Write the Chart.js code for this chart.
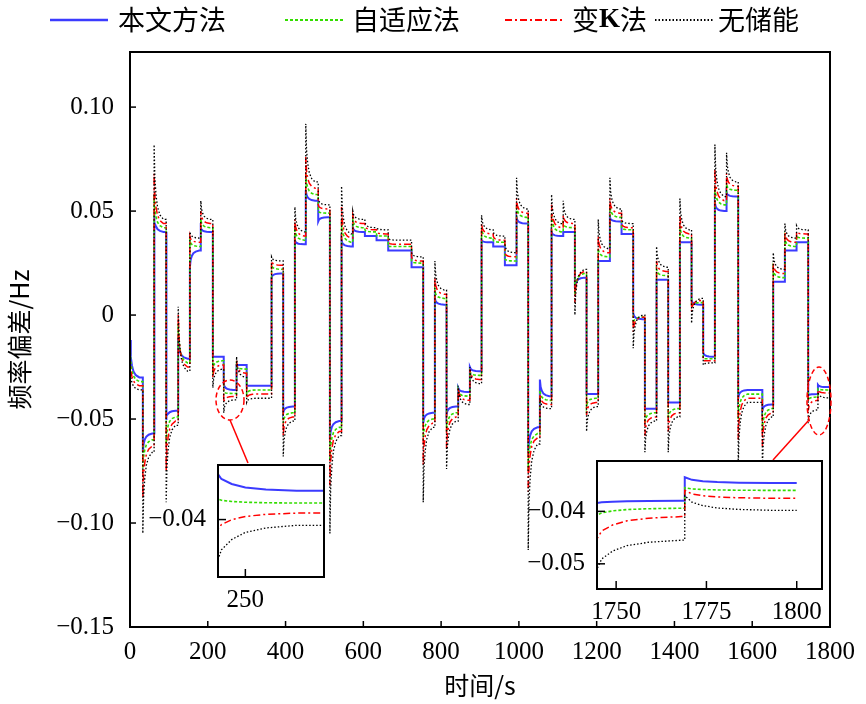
<!DOCTYPE html>
<html><head><meta charset="utf-8">
<script src="https://cdn.jsdelivr.net/npm/chart.js@4"></script>
<style>body{margin:0;background:#fff;}#wrap{position:relative;width:866px;height:704px;}canvas{position:absolute;}</style>
</head><body><div id="wrap">
<canvas id="main" width="866" height="704" style="left:0;top:0"></canvas>
<canvas id="in1" width="196" height="168" style="left:130px;top:446px"></canvas>
<canvas id="in2" width="309" height="179" style="left:515px;top:442px"></canvas>
</div>
<script>
const seriesNames = ['本文方法','自适应法','变K法','无储能'];
const segT = [0,33,62,93,124,154,182,213,241,274,300,364,394,424,452,484,514,544,573,604,634,664,724,754,784,814,844,874,904,934,964,994,1024,1054,1084,1114,1144,1174,1204,1234,1264,1294,1324,1354,1384,1414,1444,1474,1504,1534,1564,1626,1654,1684,1714,1744,1769];
const blueLvl = [-0.030,-0.057,0.040,-0.046,-0.021,0.031,0.040,-0.020,-0.036,-0.024,-0.034,0.020,-0.044,0.034,0.055,0.047,-0.051,0.033,0.040,0.038,0.036,0.031,0.023,-0.047,0.005,-0.044,-0.037,-0.027,0.035,0.033,0.024,0.044,-0.054,-0.039,0.038,0.040,0.018,-0.038,0.026,0.045,0.039,-0.002,-0.045,0.017,-0.042,0.035,0.005,-0.020,0.050,0.057,-0.036,-0.043,0.016,0.031,0.035,-0.038,-0.0346];
const blueSpk = [-0.012,-0.066,0.048,-0.0505,-0.011,0.023,0.042,-0.020,-0.033,-0.024,-0.034,0.018,-0.047,0.036,0.060,0.045,-0.060,0.036,0.042,0.038,0.036,0.031,0.023,-0.052,0.008,-0.048,-0.035,-0.025,0.036,0.033,0.024,0.047,-0.066,-0.031,0.040,0.040,0.013,-0.038,0.026,0.047,0.039,0.001,-0.045,0.017,-0.042,0.035,0.007,-0.018,0.054,0.059,-0.040,-0.046,0.016,0.031,0.035,-0.0385,-0.0335];
const greenLvl = [-0.032,-0.060,0.042,-0.049,-0.023,0.033,0.042,-0.022,-0.0377,-0.026,-0.036,0.022,-0.047,0.036,0.058,0.049,-0.054,0.035,0.042,0.040,0.038,0.033,0.025,-0.050,0.008,-0.047,-0.039,-0.029,0.037,0.035,0.026,0.047,-0.057,-0.041,0.040,0.042,0.020,-0.040,0.028,0.047,0.041,-0.001,-0.047,0.019,-0.045,0.037,0.006,-0.021,0.053,0.060,-0.038,-0.045,0.018,0.033,0.037,-0.0394,-0.036];
const greenSpk = [-0.015,-0.075,0.058,-0.062,-0.004,0.036,0.046,-0.026,-0.037,-0.024,-0.038,0.024,-0.052,0.042,0.068,0.050,-0.070,0.046,0.046,0.041,0.038,0.033,0.026,-0.060,0.012,-0.056,-0.036,-0.027,0.042,0.036,0.027,0.053,-0.075,-0.036,0.049,0.044,0.010,-0.044,0.032,0.053,0.042,-0.004,-0.052,0.022,-0.050,0.043,0.004,-0.021,0.062,0.063,-0.050,-0.056,0.022,0.037,0.038,-0.041,-0.0355];
const redLvl = [-0.034,-0.063,0.044,-0.051,-0.025,0.035,0.044,-0.024,-0.0391,-0.028,-0.038,0.024,-0.049,0.038,0.061,0.051,-0.056,0.037,0.044,0.041,0.039,0.034,0.026,-0.052,0.010,-0.049,-0.041,-0.031,0.039,0.036,0.028,0.049,-0.059,-0.043,0.042,0.044,0.021,-0.042,0.030,0.049,0.042,-0.001,-0.049,0.021,-0.047,0.039,0.007,-0.022,0.055,0.062,-0.040,-0.047,0.020,0.035,0.039,-0.041,-0.0375];
const redSpk = [-0.020,-0.088,0.068,-0.075,0.000,0.038,0.050,-0.030,-0.042,-0.022,-0.040,0.026,-0.058,0.046,0.076,0.053,-0.082,0.052,0.048,0.043,0.040,0.035,0.028,-0.072,0.018,-0.064,-0.035,-0.026,0.044,0.038,0.030,0.056,-0.085,-0.038,0.053,0.048,0.006,-0.048,0.038,0.056,0.044,-0.008,-0.058,0.026,-0.056,0.048,0.002,-0.022,0.070,0.068,-0.060,-0.063,0.025,0.040,0.040,-0.046,-0.036];
const blackLvl = [-0.036,-0.066,0.046,-0.053,-0.027,0.037,0.046,-0.026,-0.0408,-0.030,-0.040,0.026,-0.051,0.040,0.064,0.053,-0.058,0.039,0.046,0.042,0.041,0.036,0.028,-0.054,0.012,-0.051,-0.043,-0.033,0.041,0.038,0.030,0.051,-0.062,-0.045,0.044,0.046,0.022,-0.044,0.032,0.051,0.044,0.000,-0.051,0.023,-0.049,0.041,0.008,-0.023,0.057,0.064,-0.042,-0.049,0.022,0.037,0.041,-0.0455,-0.0398];
const blackSpk = [-0.025,-0.105,0.082,-0.090,0.004,0.040,0.055,-0.035,-0.047,-0.020,-0.042,0.028,-0.068,0.052,0.092,0.056,-0.105,0.062,0.050,0.045,0.042,0.037,0.030,-0.090,0.026,-0.074,-0.034,-0.025,0.048,0.040,0.034,0.066,-0.113,-0.040,0.058,0.055,0.000,-0.056,0.046,0.066,0.046,-0.016,-0.066,0.033,-0.066,0.056,-0.004,-0.024,0.082,0.078,-0.073,-0.075,0.030,0.044,0.043,-0.052,-0.037];
const endT = 1800;
const decayOffsets = [0,2,5,9,15,24];
const decayShare = [1,0.55,0.32,0.16,0.06,0];
const xTicks = [0,200,400,600,800,1000,1200,1400,1600,1800];
const yTicks = [-0.15,-0.10,-0.05,0,0.05,0.10];

function build(lvl, spk){
  const pts=[];
  for(let i=0;i<segT.length;i++){
    const t=segT[i], next = i+1<segT.length?segT[i+1]:endT;
    if(i>0) pts.push({x:t,y:lvl[i-1]});
    decayOffsets.forEach((o,k)=>{ if(t+o<next) pts.push({x:t+o,y:lvl[i]+(spk[i]-lvl[i])*decayShare[k]}); });
    pts.push({x:next,y:lvl[i]});
  }
  return pts;
}
const styles=[
 {c:'#3b3bff',w:2,d:[]},
 {c:'#33dd00',w:1.6,d:[3,2]},
 {c:'#ff0000',w:1.5,d:[7,3,2,3]},
 {c:'#000000',w:1.3,d:[1.5,2]}];
const data=[build(blueLvl,blueSpk),build(greenLvl,greenSpk),build(redLvl,redSpk),build(blackLvl,blackSpk)];
function datasets(){return data.map((d,i)=>({label:seriesNames[i],data:d,borderColor:styles[i].c,borderWidth:styles[i].w,borderDash:styles[i].d,pointRadius:0,fill:false,tension:0})).reverse();}
const FONT='"Liberation Serif","Noto Sans CJK SC",serif';
const CJK='"Noto Sans CJK SC",serif';
function fmt(v){ if(Math.abs(v)<1e-9) return '0'; const s=Math.abs(v).toFixed(2); return (v<0?'\u22120':'0')+s.slice(1);}
function fmt2(v){ if(Math.abs(v)<1e-9) return '0'; return (v<0?'\u2212':'')+Math.abs(v).toFixed(2);}

function frame(tl, opts){
  return {id:'frame'+tl, beforeDraw(ch){const a=ch.chartArea,c=ch.ctx;c.save();c.fillStyle='#fff';c.fillRect(a.left,a.top,a.right-a.left,a.bottom-a.top);c.restore();},
  afterDraw(ch){const a=ch.chartArea,c=ch.ctx;c.save();c.strokeStyle='#000';c.lineWidth=2;c.setLineDash([]);c.strokeRect(a.left,a.top,a.right-a.left,a.bottom-a.top);
    c.lineWidth=1.5;
    ch.scales.y.ticks.forEach(t=>{const y=ch.scales.y.getPixelForValue(t.value);c.beginPath();c.moveTo(a.left,y);c.lineTo(a.left+tl,y);c.stroke();});
    ch.scales.x.ticks.forEach(t=>{const x=ch.scales.x.getPixelForValue(t.value);c.beginPath();c.moveTo(x,a.bottom);c.lineTo(x,a.bottom-tl);c.stroke();});
    if(opts&&opts.extra) opts.extra(ch,c);
    c.restore();}};
}
const legendItems=[{x:50,tx:118},{x:285,tx:352},{x:505,tx:572},{x:655,tx:718}];
function extraMain(ch,c){
  c.font='27px '+CJK;c.textBaseline='middle';c.fillStyle='#000';
  legendItems.forEach((L,i)=>{const s=styles[i];c.strokeStyle=s.c;c.lineWidth=s.w+0.5;c.setLineDash(s.d);c.beginPath();c.moveTo(L.x,20);c.lineTo(L.x+58,20);c.stroke();c.setLineDash([]);
    if(i===2){c.fillText('变',L.tx,20);let w=c.measureText('变').width;c.font='bold 27px "Liberation Serif"';c.fillText('K',L.tx+w,20);let w2=c.measureText('K').width;c.font='27px '+CJK;c.fillText('法',L.tx+w+w2,20);}
    else c.fillText(seriesNames[i],L.tx,20);});
  c.strokeStyle='#ff0000';c.lineWidth=1.5;c.setLineDash([5,3]);
  c.beginPath();c.ellipse(230,400,14,20,0,0,Math.PI*2);c.stroke();
  c.beginPath();c.ellipse(819,401,12,34,0,0,Math.PI*2);c.stroke();
  c.setLineDash([]);c.beginPath();c.moveTo(230,420);c.lineTo(248,463);c.stroke();
  c.beginPath();c.moveTo(809,420);c.lineTo(773,460);c.stroke();
}
new Chart(document.getElementById('main'),{type:'line',data:{datasets:datasets()},
 options:{responsive:false,animation:false,devicePixelRatio:1,layout:{padding:{top:52,right:36,left:0,bottom:0}},
 plugins:{legend:{display:false},tooltip:{enabled:false}},
 scales:{x:{type:'linear',min:0,max:1800,grid:{display:false},border:{display:false},
   afterBuildTicks:s=>{s.ticks=xTicks.map(v=>({value:v}));},afterFit:s=>{s.height=77;},
   ticks:{color:'#000',font:{size:25,family:FONT},padding:2,maxRotation:0,callback:v=>String(v)},
   title:{display:true,text:'时间/s',color:'#000',font:{size:25,family:CJK},padding:{top:-6}}},
  y:{min:-0.15,max:0.1265,grid:{display:false},border:{display:false},
   afterBuildTicks:s=>{s.ticks=yTicks.map(v=>({value:v}));},afterFit:s=>{s.width=130;},
   ticks:{color:'#000',font:{size:25,family:FONT},padding:8,callback:v=>fmt(v)},
   title:{display:true,text:'频率偏差/Hz',color:'#000',font:{size:25,family:CJK},padding:{bottom:4}}}}},
 plugins:[frame(6,{extra:extraMain})]});

function inset(id,xmin,xmax,ymin,ymax,xt,yt,yw,xh,yf){
 new Chart(document.getElementById(id),{type:'line',data:{datasets:datasets()},
 options:{responsive:false,animation:false,devicePixelRatio:1,layout:{padding:{top:1,right:2,left:0,bottom:0}},
 plugins:{legend:{display:false},tooltip:{enabled:false}},
 scales:{x:{type:'linear',min:xmin,max:xmax,grid:{display:false},border:{display:false},
   afterBuildTicks:s=>{s.ticks=xt.map(v=>({value:v}));},afterFit:s=>{s.height=xh;},
   ticks:{color:'#000',font:{size:25,family:FONT},padding:0,maxRotation:0,callback:v=>String(v)}},
  y:{min:ymin,max:ymax,grid:{display:false},border:{display:false},
   afterBuildTicks:s=>{s.ticks=yt.map(v=>({value:v}));},afterFit:s=>{s.width=yw;},
   ticks:{color:'#000',font:{size:25,family:FONT},padding:4,callback:v=>yf(v)}}}},
 plugins:[frame(8)]});
}
inset('in1',242,273,-0.048,-0.0324,[250],[-0.04],88,37,fmt2);
inset('in2',1744.7,1807,-0.0548,-0.0304,[1750,1775,1800],[-0.04,-0.05],82,32,fmt2);
</script></body></html>
